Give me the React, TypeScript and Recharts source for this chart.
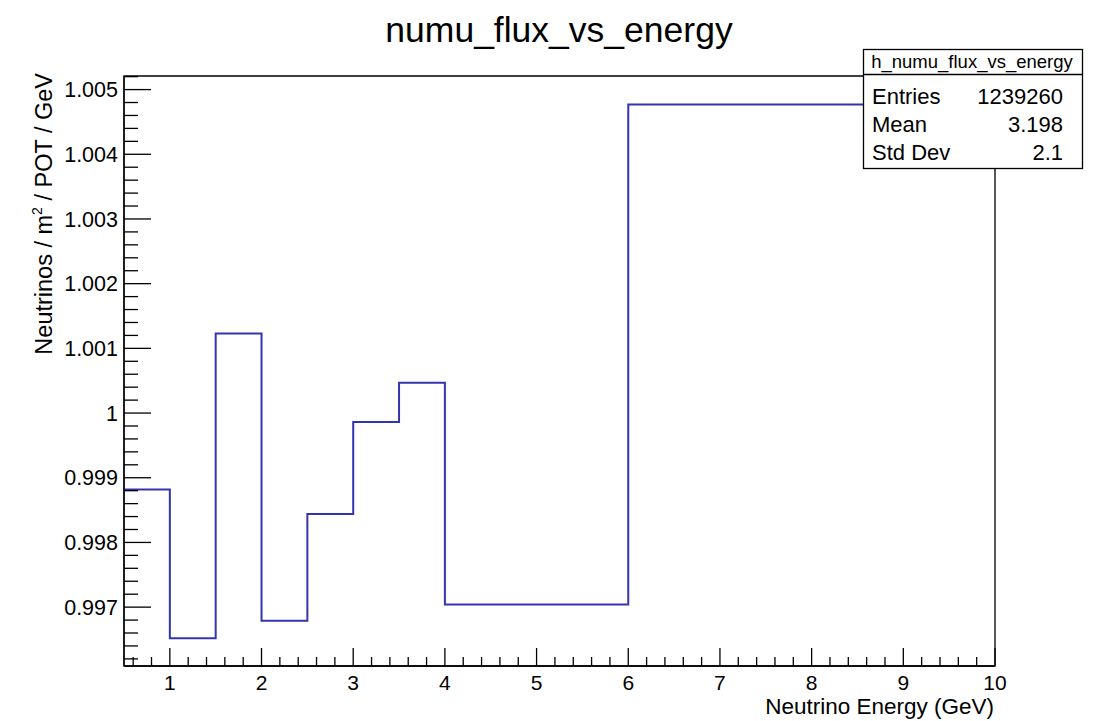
import React from "react";
import { LineChart, Line, XAxis, YAxis, ReferenceArea } from "recharts";

// histogram bins (variable width) and flux per bin
const BIN_EDGES = [0.5, 1, 1.5, 2, 2.5, 3, 3.5, 4, 6, 10];
const FLUX = [0.99882, 0.99652, 1.00123, 0.99679, 0.99844, 0.99986, 1.00047, 0.99704, 1.00477];

// axis ranges and major tick spacing
const X_DOMAIN = [0.5, 10];
const Y_DOMAIN = [0.99609, 1.00521];
const X_MAJOR_STEP = 1;
const Y_MAJOR_STEP = 0.001;
const X_DIVISIONS = 5;
const Y_DIVISIONS = 5;

// stats box
const STATS_NAME = "h_numu_flux_vs_energy";
const STATS_LABELS = ["Entries", "Mean", "Std Dev"];
const STATS_VALUES = ["1239260", "3.198", "2.1"];

const FONT = "'Liberation Sans', Arial, Helvetica, sans-serif";
const LINE_COLOR = "#3434b0";

// step line needs one point per edge; last edge repeats the last bin value
const data = BIN_EDGES.map((edge, i) => ({
    x: edge,
    y: FLUX[Math.min(i, FLUX.length - 1)],
}));

function buildTicks(domain: number[], majorStep: number, divisions: number) {
    const ms = majorStep / divisions;
    const first = Math.ceil(domain[0] / ms - 1e-9);
    const last = Math.floor(domain[1] / ms + 1e-9);
    const out: number[] = [];
    for (let i = first; i <= last; i++) out.push(Number((i * ms).toFixed(6)));
    return out;
}

function isMajor(v: number, step: number) {
    const r = v / step;
    return Math.abs(r - Math.round(r)) < 1e-6;
}

const X_TICKS = buildTicks(X_DOMAIN, X_MAJOR_STEP, X_DIVISIONS);
const Y_TICKS = buildTicks(Y_DOMAIN, Y_MAJOR_STEP, Y_DIVISIONS);

// ROOT style: ticks point into the frame
const XTick = (props: any) => {
    const { x, y, payload } = props;
    const major = isMajor(payload.value, X_MAJOR_STEP);
    return (
        <g>
            <line x1={x} x2={x} y1={y} y2={y - (major ? 18 : 9)} stroke="#000" strokeWidth={1.3} />
            {major && (
                <text x={x} y={y + 24} textAnchor="middle" fontSize={21} fontFamily={FONT} fill="#000">
                    {Math.round(payload.value)}
                </text>
            )}
        </g>
    );
};

const YTick = (props: any) => {
    const { x, y, payload } = props;
    const major = isMajor(payload.value, Y_MAJOR_STEP);
    return (
        <g>
            <line x1={x} x2={x + (major ? 27 : 14)} y1={y} y2={y} stroke="#000" strokeWidth={1.3} />
            {major && (
                <text x={x - 6} y={y} dy="0.36em" textAnchor="end" fontSize={21.5} fontFamily={FONT} fill="#000">
                    {String(Number(payload.value.toFixed(3)))}
                </text>
            )}
        </g>
    );
};

export default function App() {
    return (
        <div style={{ position: "absolute", left: 0, top: 0, width: 1099, height: 721, background: "#fff" }}>
            <LineChart
                width={1099}
                height={721}
                data={data}
                margin={{ top: 76, right: 104, bottom: 5, left: 24 }}
            >
                <ReferenceArea
                    x1={X_DOMAIN[0]}
                    x2={X_DOMAIN[1]}
                    y1={Y_DOMAIN[0]}
                    y2={Y_DOMAIN[1]}
                    fill="none"
                    stroke="#000"
                    strokeWidth={1.3}
                />
                <XAxis
                    dataKey="x"
                    type="number"
                    domain={X_DOMAIN}
                    ticks={X_TICKS}
                    interval={0}
                    allowDataOverflow
                    tickSize={0}
                    tickMargin={0}
                    tickLine={false}
                    tick={<XTick />}
                    axisLine={{ stroke: "#000", strokeWidth: 1.3 }}
                    height={50}
                />
                <YAxis
                    type="number"
                    domain={Y_DOMAIN}
                    ticks={Y_TICKS}
                    interval={0}
                    allowDataOverflow
                    tickSize={0}
                    tickMargin={0}
                    tickLine={false}
                    tick={<YTick />}
                    axisLine={{ stroke: "#000", strokeWidth: 1.3 }}
                    width={100}
                />
                <Line
                    type="stepAfter"
                    dataKey="y"
                    stroke={LINE_COLOR}
                    strokeWidth={2}
                    dot={false}
                    activeDot={false}
                    isAnimationActive={false}
                />
            </LineChart>

            {/* title, axis titles and stats box sit on top of the plot */}
            <svg
                width={1099}
                height={721}
                style={{ position: "absolute", left: 0, top: 0, pointerEvents: "none" }}
                fontFamily={FONT}
            >
                <text x={559} y={42} textAnchor="middle" fontSize={35.5} fill="#000">
                    numu_flux_vs_energy
                </text>
                <text x={994} y={714} textAnchor="end" fontSize={22.5} fill="#000">
                    Neutrino Energy (GeV)
                </text>
                <text transform="translate(52,73) rotate(-90)" textAnchor="end" fontSize={23.5} fill="#000">
                    Neutrinos / m
                    <tspan fontSize={14} dy={-10}>2</tspan>
                    <tspan dy={10}> / POT / GeV</tspan>
                </text>

                <rect x={863.5} y={49.5} width={219} height={119} fill="#fff" stroke="#000" strokeWidth={1.3} />
                <line x1={863.5} x2={1082.5} y1={74.5} y2={74.5} stroke="#000" strokeWidth={1.3} />
                <text x={972} y={68} textAnchor="middle" fontSize={18.5} fill="#000">
                    {STATS_NAME}
                </text>
                {STATS_LABELS.map((label, i) => (
                    <g key={label}>
                        <text x={872} y={103.5 + i * 28.3} fontSize={22} fill="#000">
                            {label}
                        </text>
                        <text x={1063} y={103.5 + i * 28.3} textAnchor="end" fontSize={22} fill="#000">
                            {STATS_VALUES[i]}
                        </text>
                    </g>
                ))}
            </svg>
        </div>
    );
}
